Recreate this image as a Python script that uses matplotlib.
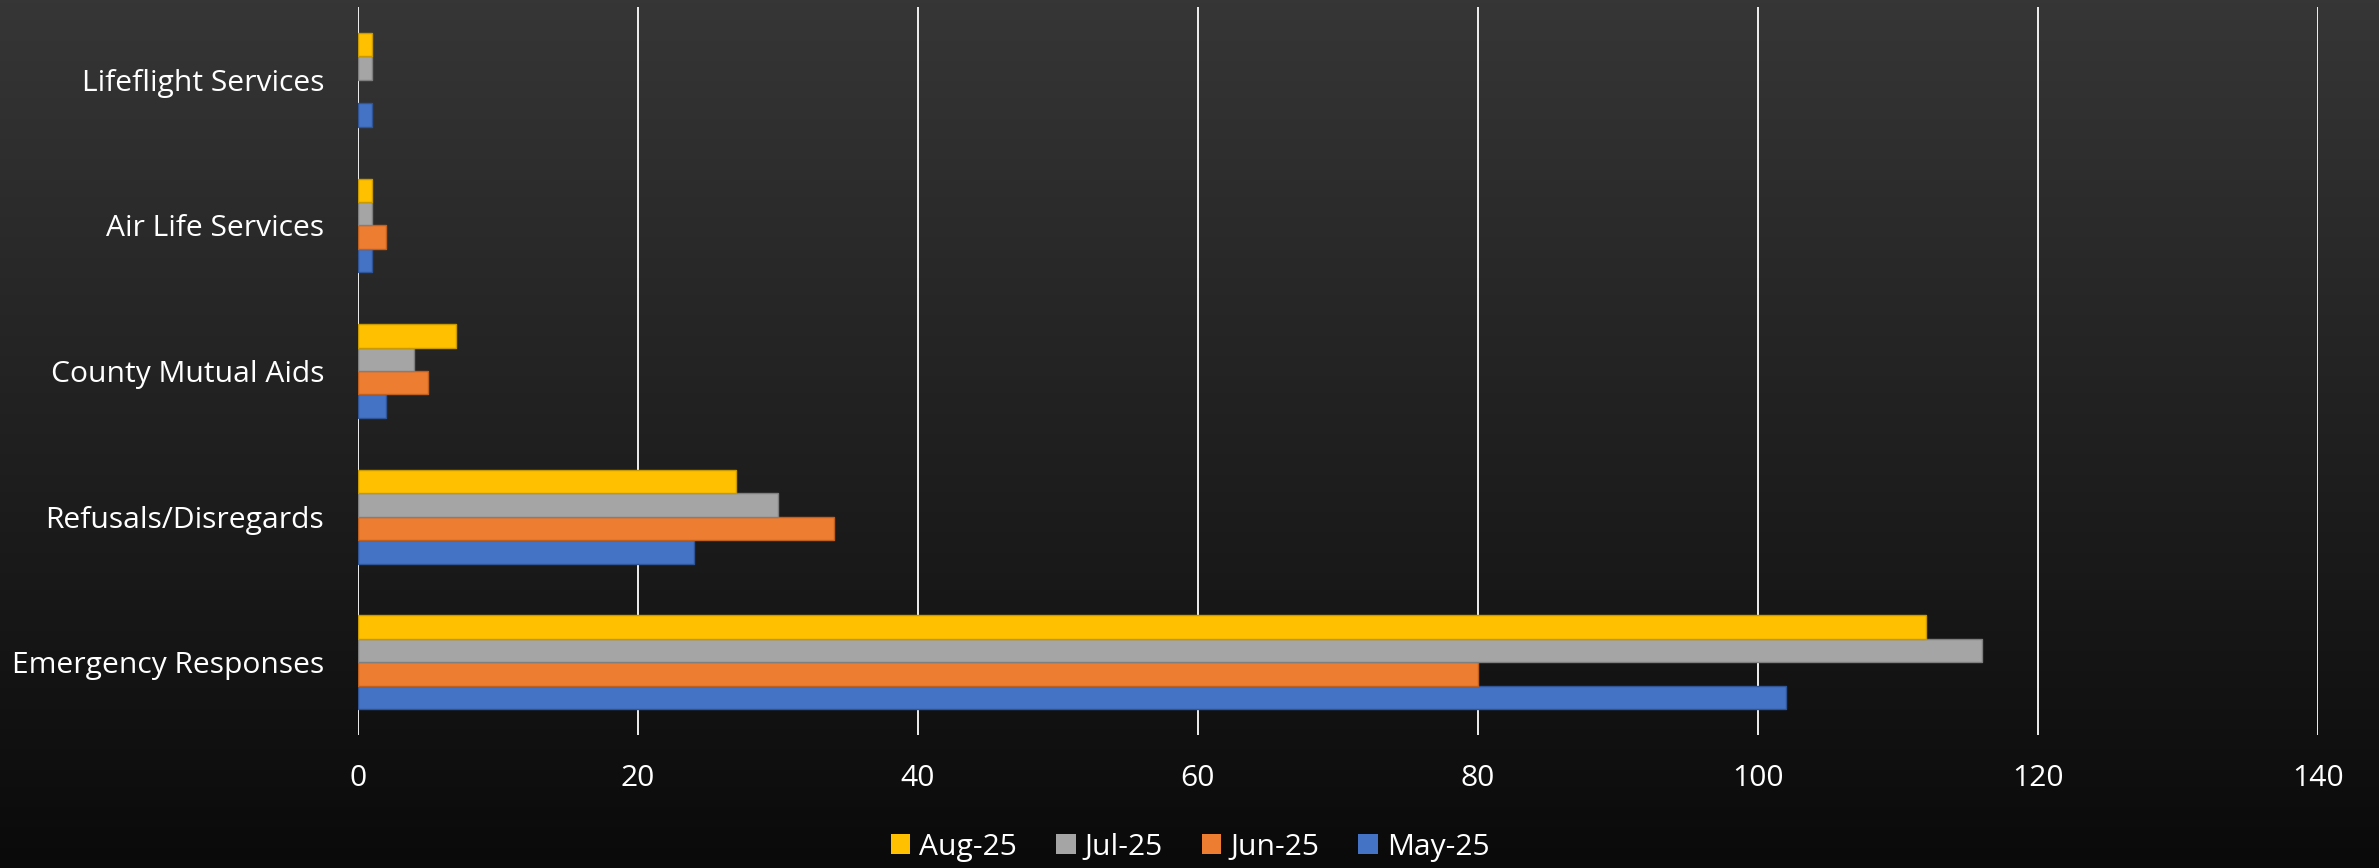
import numpy as np
import matplotlib
matplotlib.use("Agg")
import matplotlib.pyplot as plt
from matplotlib.patches import Patch

categories = ["Emergency Responses", "Refusals/Disregards", "County Mutual Aids",
              "Air Life Services", "Lifeflight Services"]
may25 = [102, 24, 2, 1, 1]
jun25 = [80, 34, 5, 2, 0]
jul25 = [116, 30, 4, 1, 1]
aug25 = [112, 27, 7, 1, 1]
series_names = ["May-25", "Jun-25", "Jul-25", "Aug-25"]
x_ticks = [0, 20, 40, 60, 80, 100, 120, 140]

colors = ["#4472C4", "#ED7D31", "#A5A5A5", "#FFC000"]
edges = ["#2F5597", "#C0601F", "#7F7F7F", "#C99A00"]

plt.rcParams['font.family'] = ['Open Sans', 'DejaVu Sans']
fs = 21.6

fig = plt.figure(figsize=(23.79, 8.68), dpi=100)
# background gradient
bg = fig.add_axes([0, 0, 1, 1], zorder=-10)
grad = np.linspace(0x36, 0x0a, 256) / 255.0
img = np.repeat(grad[:, None], 2, axis=1)
bg.imshow(np.dstack([img, img, img]), aspect='auto', extent=[0, 1, 0, 1], origin='upper')
bg.set_axis_off()

ax = fig.add_axes([0.1503, 0.1532, 0.8239, 0.8387])
ax.patch.set_alpha(0)

h = 0.161
y = np.arange(len(categories))
data = [may25, jun25, jul25, aug25]
for i, (vals, c, e, name) in enumerate(zip(data, colors, edges, series_names)):
    off = (i - 1.5) * h
    lws = [1.0 if v > 0 else 0.0 for v in vals]
    ax.barh(y + off, vals, height=h, color=c, edgecolor=e, linewidth=lws, label=name, zorder=3)

ax.set_xlim(0, 140)
ax.set_ylim(-0.5, 4.5)
ax.set_xticks(x_ticks)
ax.set_yticks(y)
ax.set_yticklabels(categories)
ax.xaxis.grid(True, color='white', linewidth=1.3, zorder=1)
ax.set_axisbelow(True)
for s in ax.spines.values():
    s.set_visible(False)
ax.tick_params(axis='both', length=0, colors='white', labelsize=fs)
ax.tick_params(axis='y', pad=24)
ax.tick_params(axis='x', pad=21)

handles = [Patch(facecolor=c, edgecolor='none', label=n) for c, n in zip(colors[::-1], series_names[::-1])]
fig.legend(handles=handles, loc='center', bbox_to_anchor=(1190/2379, 1 - 847/868), ncol=4,
           frameon=False, fontsize=fs, labelcolor='white', handlelength=0.65, handleheight=0.65,
           handletextpad=0.3, columnspacing=1.3)

fig.savefig("out.png", dpi=100)
